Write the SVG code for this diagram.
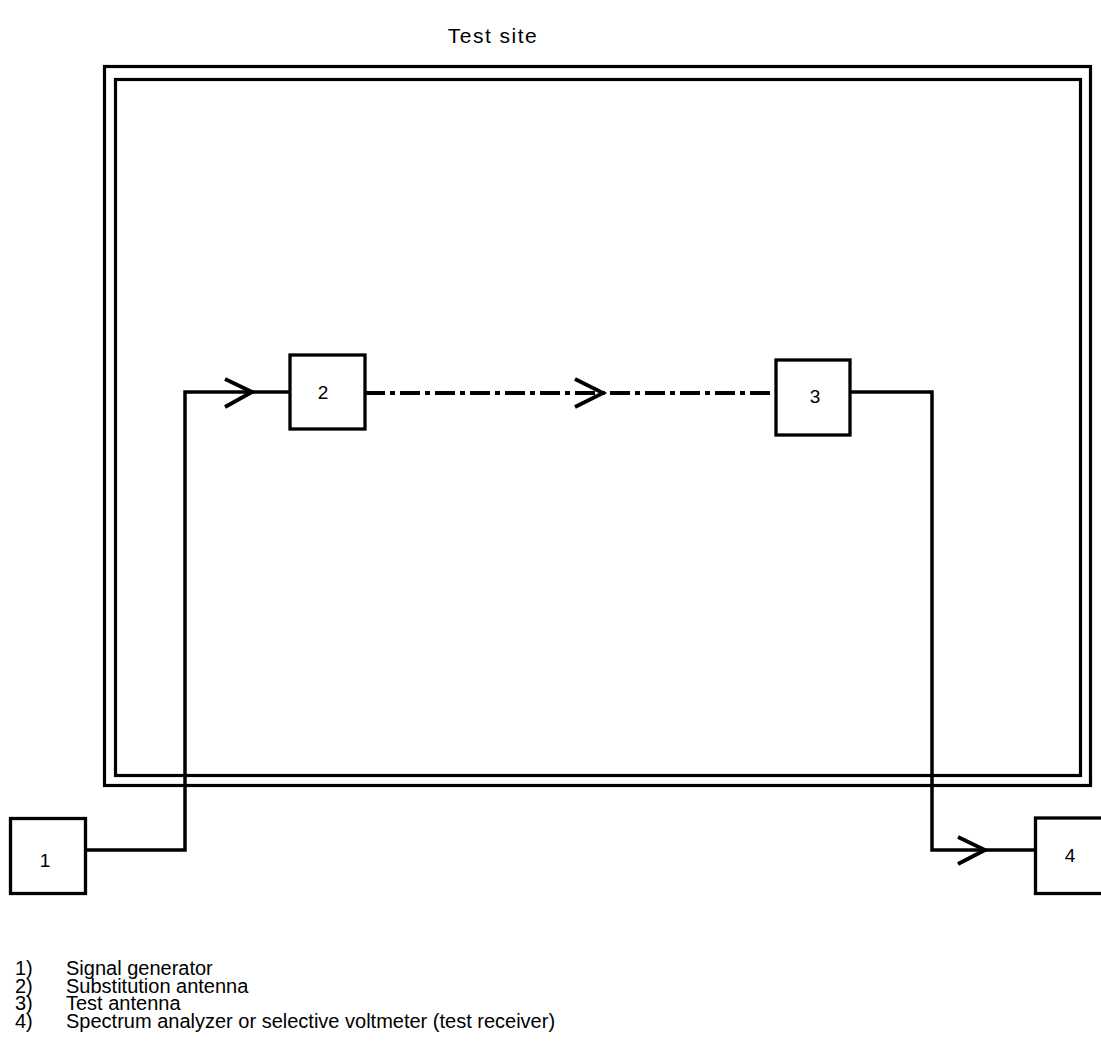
<svg xmlns="http://www.w3.org/2000/svg" width="1101" height="1048" viewBox="0 0 1101 1048">
<style>
.frame{fill:none;stroke:#000;stroke-width:3.2}
.box{fill:#fff;stroke:#000;stroke-width:3.3}
.wire{fill:none;stroke:#000;stroke-width:3.5;stroke-linejoin:miter}
.beam{fill:none;stroke:#000;stroke-width:4;stroke-dasharray:20 5 5 5}
.arrow{fill:none;stroke:#000;stroke-width:3.8;stroke-linecap:butt}
.lbl{font-family:"Liberation Sans",Arial,sans-serif;font-size:19px;fill:#000}
.leg{font-family:"Liberation Sans",Arial,sans-serif;font-size:20px;fill:#000}
.title{font-family:"Liberation Sans",Arial,sans-serif;font-size:21px;letter-spacing:1.5px;fill:#000}
</style>
<rect width="1101" height="1048" fill="#fff"/>
<g id="test-site">
<rect class="frame" x="104.5" y="66.5" width="986" height="719"/>
<rect class="frame" x="115.5" y="79.5" width="965" height="696"/>
<text class="title" x="493" y="43" text-anchor="middle">Test site</text>
</g>
<g id="connectors">
<polyline class="wire" points="85,850 185,850 185,392 290,392"/>
<polyline class="arrow" points="225,379 252,392 225,407"/>
<line class="beam" x1="365" y1="393" x2="776" y2="393"/>
<polyline class="arrow" points="575,379 603,393 575,407"/>
<polyline class="wire" points="850,392 932,392 932,850 1035.5,850"/>
<polyline class="arrow" points="958,837 985,850 958,864"/>
</g>
<g id="node-1">
<rect class="box" x="10.5" y="818.5" width="75" height="75"/>
<text class="lbl" x="45" y="867" text-anchor="middle">1</text>
</g>
<g id="node-2">
<rect class="box" x="290" y="355" width="75" height="74"/>
<text class="lbl" x="323" y="399" text-anchor="middle">2</text>
</g>
<g id="node-3">
<rect class="box" x="776" y="360" width="74" height="75"/>
<text class="lbl" x="815" y="403" text-anchor="middle">3</text>
</g>
<g id="node-4">
<rect class="box" x="1035.5" y="818" width="75" height="75.5"/>
<text class="lbl" x="1070" y="862" text-anchor="middle">4</text>
</g>
<g id="legend">
<text class="leg" x="15" y="975">1)</text><text class="leg" x="66" y="975">Signal generator</text>
<text class="leg" x="15" y="992.5">2)</text><text class="leg" x="66" y="992.5">Substitution antenna</text>
<text class="leg" x="15" y="1010">3)</text><text class="leg" x="66" y="1010">Test antenna</text>
<text class="leg" x="15" y="1027.5">4)</text><text class="leg" x="66" y="1027.5">Spectrum analyzer or selective voltmeter (test receiver)</text>
</g>
</svg>
